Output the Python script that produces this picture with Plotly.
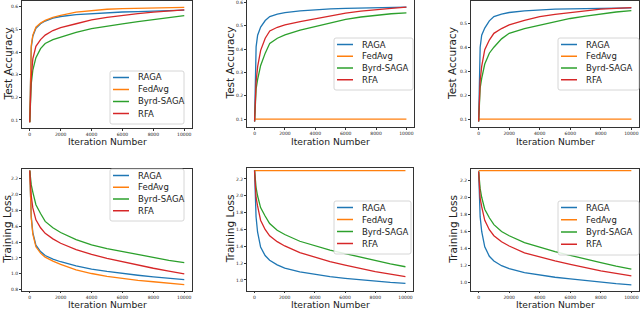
import plotly.graph_objects as go

# ---------------- data ----------------
ITERS = [0, 50, 100, 200, 400, 700, 1000, 1500, 2000, 3000, 4000, 5000, 6000, 7000, 8000, 9000, 10000]
X_TICKS = [0, 2000, 4000, 6000, 8000, 10000]
X_TICK_TEXT = ["0", "2000", "4000", "6000", "8000", "10000"]
SERIES = ["RAGA", "FedAvg", "Byrd-SAGA", "RFA"]
COLORS = ["#1f77b4", "#ff7f0e", "#2ca02c", "#d62728"]

# Panel 1: test accuracy
ACC1_RAGA = [0.09, 0.36, 0.42, 0.47, 0.505, 0.525, 0.537, 0.550, 0.557, 0.565, 0.570, 0.574, 0.577, 0.579, 0.581, 0.583, 0.585]
ACC1_FEDAVG = [0.09, 0.37, 0.43, 0.475, 0.51, 0.528, 0.540, 0.553, 0.562, 0.576, 0.584, 0.589, 0.592, 0.594, 0.595, 0.596, 0.597]
ACC1_BYRD = [0.09, 0.22, 0.26, 0.32, 0.375, 0.415, 0.438, 0.455, 0.466, 0.487, 0.503, 0.515, 0.524, 0.534, 0.543, 0.552, 0.561]
ACC1_RFA = [0.09, 0.24, 0.29, 0.37, 0.425, 0.455, 0.475, 0.495, 0.508, 0.525, 0.542, 0.553, 0.562, 0.570, 0.576, 0.581, 0.586]

# Panel 2: test accuracy
ACC2_RAGA = [0.09, 0.35, 0.41, 0.46, 0.495, 0.523, 0.54, 0.55, 0.557, 0.564, 0.569, 0.573, 0.575, 0.577, 0.578, 0.579, 0.580]
ACC2_FEDAVG = [0.1, 0.1, 0.1, 0.1, 0.1, 0.1, 0.1, 0.1, 0.1, 0.1, 0.1, 0.1, 0.1, 0.1, 0.1, 0.1, 0.1]
ACC2_BYRD = [0.09, 0.2, 0.23, 0.27, 0.33, 0.383, 0.425, 0.447, 0.461, 0.482, 0.497, 0.515, 0.528, 0.538, 0.546, 0.552, 0.556]
ACC2_RFA = [0.09, 0.22, 0.26, 0.325, 0.395, 0.447, 0.478, 0.494, 0.504, 0.518, 0.530, 0.545, 0.555, 0.563, 0.570, 0.575, 0.580]

# Panel 3: test accuracy
ACC3_RAGA = [0.09, 0.33, 0.40, 0.45, 0.48, 0.51, 0.528, 0.538, 0.545, 0.552, 0.556, 0.559, 0.560, 0.561, 0.562, 0.563, 0.564]
ACC3_FEDAVG = [0.1, 0.1, 0.1, 0.1, 0.1, 0.1, 0.1, 0.1, 0.1, 0.1, 0.1, 0.1, 0.1, 0.1, 0.1, 0.1, 0.1]
ACC3_BYRD = [0.09, 0.2, 0.23, 0.27, 0.33, 0.375, 0.40, 0.435, 0.458, 0.478, 0.493, 0.505, 0.520, 0.530, 0.540, 0.547, 0.553]
ACC3_RFA = [0.09, 0.22, 0.26, 0.32, 0.39, 0.43, 0.458, 0.478, 0.493, 0.512, 0.528, 0.537, 0.545, 0.552, 0.559, 0.562, 0.565]

# Panel 4: training loss
LOSS1_RAGA = [2.30, 1.92, 1.72, 1.52, 1.36, 1.28, 1.23, 1.185, 1.152, 1.10, 1.06, 1.03, 1.004, 0.982, 0.962, 0.944, 0.928]
LOSS1_FEDAVG = [2.30, 1.90, 1.70, 1.50, 1.34, 1.26, 1.21, 1.16, 1.118, 1.05, 1.004, 0.968, 0.94, 0.918, 0.90, 0.882, 0.865]
LOSS1_BYRD = [2.30, 2.20, 2.12, 2.03, 1.87, 1.76, 1.66, 1.58, 1.52, 1.43, 1.364, 1.318, 1.28, 1.24, 1.20, 1.17, 1.14]
LOSS1_RFA = [2.30, 2.10, 1.98, 1.83, 1.68, 1.58, 1.51, 1.44, 1.385, 1.305, 1.245, 1.195, 1.152, 1.11, 1.07, 1.035, 1.0]

# Panel 5: training loss
LOSS2_RAGA = [2.30, 1.90, 1.75, 1.57, 1.39, 1.29, 1.235, 1.18, 1.14, 1.095, 1.063, 1.04, 1.02, 1.002, 0.985, 0.972, 0.96]
LOSS2_FEDAVG = [2.30, 2.30, 2.30, 2.30, 2.30, 2.30, 2.30, 2.30, 2.30, 2.30, 2.30, 2.30, 2.30, 2.30, 2.30, 2.30, 2.30]
LOSS2_BYRD = [2.30, 2.18, 2.10, 2.00, 1.86, 1.76, 1.67, 1.59, 1.54, 1.46, 1.404, 1.355, 1.314, 1.27, 1.23, 1.19, 1.157]
LOSS2_RFA = [2.30, 2.08, 1.98, 1.88, 1.71, 1.60, 1.525, 1.455, 1.404, 1.325, 1.267, 1.218, 1.176, 1.137, 1.10, 1.07, 1.04]

# Panel 6: training loss
LOSS3_RAGA = [2.30, 1.92, 1.77, 1.60, 1.42, 1.31, 1.255, 1.20, 1.165, 1.12, 1.09, 1.065, 1.045, 1.025, 1.01, 0.99, 0.976]
LOSS3_FEDAVG = [2.31, 2.31, 2.31, 2.31, 2.31, 2.31, 2.31, 2.31, 2.31, 2.31, 2.31, 2.31, 2.31, 2.31, 2.31, 2.31, 2.31]
LOSS3_BYRD = [2.30, 2.18, 2.10, 2.00, 1.86, 1.76, 1.68, 1.60, 1.55, 1.47, 1.415, 1.365, 1.32, 1.275, 1.235, 1.195, 1.16]
LOSS3_RFA = [2.30, 2.08, 1.99, 1.89, 1.73, 1.62, 1.55, 1.48, 1.43, 1.35, 1.30, 1.255, 1.215, 1.175, 1.14, 1.11, 1.08]

ACC_TICKS_6 = [0.1, 0.2, 0.3, 0.4, 0.5, 0.6]
ACC_TICKS_5 = [0.1, 0.2, 0.3, 0.4, 0.5]
LOSS_TICKS = [0.8, 1.0, 1.2, 1.4, 1.6, 1.8, 2.0, 2.2]

# ---------------- layout helpers ----------------
W, H = 640, 309
FONT = "DejaVu Sans"
TXT = "#222222"


def px(x):
    return x / W


def py(y):
    return 1 - y / H


panels = [
    dict(series=[ACC1_RAGA, ACC1_FEDAVG, ACC1_BYRD, ACC1_RFA], title="Test Accuracy",
         yr=[0.0645, 0.6255], ticks=ACC_TICKS_6, box=(22, 1, 192, 128), leg=(110, 71, 74, 53),
         ytx=7, xty=141),
    dict(series=[ACC2_RAGA, ACC2_FEDAVG, ACC2_BYRD, ACC2_RFA], title="Test Accuracy",
         yr=[0.066, 0.611], ticks=ACC_TICKS_6, box=(247, 0, 414, 127), leg=(334, 38, 79, 52),
         ytx=229, xty=141),
    dict(series=[ACC3_RAGA, ACC3_FEDAVG, ACC3_BYRD, ACC3_RFA], title="Test Accuracy",
         yr=[0.067, 0.593], ticks=ACC_TICKS_5, box=(471, 1, 639, 127), leg=(558, 38, 81, 52),
         ytx=452, xty=141),
    dict(series=[LOSS1_RAGA, LOSS1_FEDAVG, LOSS1_BYRD, LOSS1_RFA], title="Training Loss",
         yr=[0.79, 2.32], ticks=LOSS_TICKS, box=(22, 169, 192, 290.5), leg=(110, 169, 74, 52),
         ytx=7, xty=304.5),
    dict(series=[LOSS2_RAGA, LOSS2_FEDAVG, LOSS2_BYRD, LOSS2_RFA], title="Training Loss",
         yr=[0.875, 2.33], ticks=LOSS_TICKS, box=(247, 168, 413, 290.5), leg=(334, 201, 77, 53),
         ytx=230, xty=304.5),
    dict(series=[LOSS3_RAGA, LOSS3_FEDAVG, LOSS3_BYRD, LOSS3_RFA], title="Training Loss",
         yr=[0.91, 2.33], ticks=LOSS_TICKS, box=(471, 169, 639, 290.5), leg=(558, 201, 81, 54),
         ytx=453, xty=304.5),
]

fig = go.Figure()
layout = dict(
    width=W, height=H, margin=dict(l=0, r=0, t=0, b=0),
    paper_bgcolor="white", plot_bgcolor="white", showlegend=False,
    font=dict(family=FONT, color=TXT),
)
shapes = []
annotations = []

for i, p in enumerate(panels):
    n = "" if i == 0 else str(i + 1)
    xa, ya = "x" + n, "y" + n
    for name, vals, col in zip(SERIES, p["series"], COLORS):
        fig.add_trace(go.Scatter(x=ITERS, y=vals, mode="lines", name=name,
                                 line=dict(color=col, width=1.3), xaxis=xa, yaxis=ya,
                                 hoverinfo="skip"))
    x0, y0, x1, y1 = p["box"]
    common = dict(showline=True, mirror=True, linecolor="#333", linewidth=0.8,
                  showgrid=False, zeroline=False, ticks="outside", ticklen=2,
                  tickwidth=0.6, tickcolor="#333", automargin=False,
                  tickfont=dict(size=4.5, family=FONT, color=TXT))
    layout["xaxis" + n] = dict(common, domain=[px(x0), px(x1)], anchor=ya,
                               range=[-500, 10500], tickvals=X_TICKS, ticktext=X_TICK_TEXT)
    layout["yaxis" + n] = dict(common, domain=[py(y1), py(y0)], anchor=xa,
                               range=p["yr"], tickvals=p["ticks"], tickformat=".1f")

    # axis titles
    annotations.append(dict(x=px((x0 + x1) / 2), y=py(p["xty"]), xref="paper", yref="paper",
                            text="Iteration Number", showarrow=False,
                            xanchor="center", yanchor="middle",
                            font=dict(size=9.2, family=FONT, color=TXT)))
    annotations.append(dict(x=px(p["ytx"]), y=py((y0 + y1) / 2), xref="paper", yref="paper",
                            text=p["title"], showarrow=False, textangle=-90,
                            xanchor="center", yanchor="middle",
                            font=dict(size=10.5, family=FONT, color=TXT)))

    # legend frame (matplotlib style)
    lx, ly, lw, lh = p["leg"]
    r = 2.0
    X0, X1 = px(lx), px(lx + lw)
    YT, YB = py(ly), py(ly + lh)
    rx, ry = r / W, r / H
    path = (f"M {X0+rx},{YT} L {X1-rx},{YT} Q {X1},{YT} {X1},{YT-ry} "
            f"L {X1},{YB+ry} Q {X1},{YB} {X1-rx},{YB} L {X0+rx},{YB} "
            f"Q {X0},{YB} {X0},{YB+ry} L {X0},{YT-ry} Q {X0},{YT} {X0+rx},{YT} Z")
    shapes.append(dict(type="path", path=path, xref="paper", yref="paper",
                       fillcolor="rgba(255,255,255,0.85)", line=dict(color="#cccccc", width=0.8)))
    step = (lh - 5) / 4.0
    for k, (name, col) in enumerate(zip(SERIES, COLORS)):
        cy = ly + 6.5 + step * k
        shapes.append(dict(type="line", xref="paper", yref="paper",
                           x0=px(lx + 3), x1=px(lx + 19), y0=py(cy), y1=py(cy),
                           line=dict(color=col, width=1.5)))
        annotations.append(dict(x=px(lx + 26), y=py(cy), xref="paper", yref="paper",
                                text=name, showarrow=False, xanchor="left", yanchor="middle",
                                font=dict(size=8.5, family=FONT, color=TXT)))

layout["shapes"] = shapes
layout["annotations"] = annotations
fig.update_layout(**layout)
fig.write_html("out.html", config={"displayModeBar": False},
               post_script="document.body.style.margin='0px';")
